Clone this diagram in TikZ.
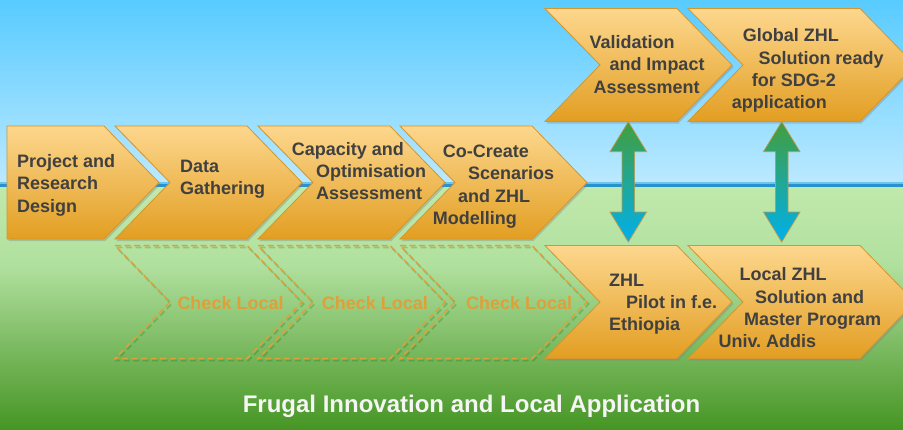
\documentclass[tikz,border=0pt]{standalone}
\usepackage{fontspec}
\setmainfont{Liberation Sans}
\usetikzlibrary{shadows,calc}
\frenchspacing

\definecolor{skytop}{RGB}{88,203,255}
\definecolor{skybot}{RGB}{188,233,255}
\definecolor{horizonlight}{RGB}{110,195,235}
\definecolor{horizon}{RGB}{38,146,206}
\definecolor{grassA}{RGB}{192,233,172}
\definecolor{grassB}{RGB}{176,224,158}
\definecolor{grassC}{RGB}{128,189,102}
\definecolor{grassD}{RGB}{70,150,36}
\definecolor{chevtop}{RGB}{253,215,142}
\definecolor{chevbot}{RGB}{226,158,34}
\definecolor{chevedge}{RGB}{212,150,45}
\definecolor{labelgray}{RGB}{64,64,64}
\definecolor{localorange}{RGB}{222,160,58}
\definecolor{arrowtop}{RGB}{66,158,62}
\definecolor{arrowbot}{RGB}{0,176,236}
\definecolor{arrowedge}{RGB}{196,152,70}

\tikzset{
  chevron/.style={draw=chevedge, line width=0.8pt, line join=miter,
    top color=chevtop, bottom color=chevbot,
    drop shadow={shadow xshift=1.5pt, shadow yshift=-2pt, opacity=0.35}},
  ghostline/.style={draw=localorange, line width=1.5pt, dash pattern=on 6pt off 3.5pt},
  ghostshade/.style={draw=black!60!green, opacity=0.22, line width=1.8pt, dash pattern=on 6pt off 3.5pt},
  steptext/.style={anchor=base west, inner sep=0pt, text=labelgray,
    font=\fontsize{18}{22.4}\selectfont\bfseries},
  checktext/.style={anchor=base west, inner sep=0pt, text=localorange,
    font=\fontsize{18}{22.4}\selectfont\bfseries},
  titletext/.style={anchor=base, inner sep=0pt, text=white!96!black,
    font=\fontsize{24}{28}\selectfont\bfseries},
  biarrow/.style={draw=arrowedge, line width=0.7pt, line join=miter,
    top color=arrowtop, bottom color=arrowbot}
}

% chevron outline: style, left x, top y, width of the flat top edge
\newcommand\drawchev[4]{%
  \path[#1] (#2,#3) -- (#2+#4,#3) -- (#2+#4+55,#3+56.5) -- (#2+#4,#3+113)
    -- (#2,#3+113) -- (#2+55,#3+56.5) -- cycle;}

% two-headed vertical arrow between two named points
\newcommand\dualarrow[2]{%
  \path[biarrow] (#1) -- ($(#1)+(18.3,30)$) -- ($(#1)+(6.3,30)$)
    -- ($(#2)+(6.3,-30)$) -- ($(#2)+(18.3,-30)$) -- (#2)
    -- ($(#2)+(-18.3,-30)$) -- ($(#2)+(-6.3,-30)$)
    -- ($(#1)+(-6.3,30)$) -- ($(#1)+(-18.3,30)$) -- cycle;}

% multi-line label whose reference point is the first baseline
\newcommand\steplines[1]{\parbox[t]{300pt}{\raggedright\hyphenpenalty=10000 #1}}

\begin{document}
\begin{tikzpicture}[x=1pt,y=-1pt]
\useasboundingbox (0,0) rectangle (903,429);
\clip (0,0) rectangle (903,429);

% sky and ground
\shade[top color=skytop, bottom color=skybot] (0,0) rectangle (903,184);
\fill[horizonlight] (0,182.3) rectangle (903,184);
\fill[horizon] (0,184) rectangle (903,187);
\shade[top color=grassA, bottom color=grassB] (0,187) rectangle (903,266);
\shade[top color=grassB, bottom color=grassC] (0,265) rectangle (903,341);
\shade[top color=grassC, bottom color=grassD] (0,340) rectangle (903,429);

% dashed local-check chevrons
\begin{scope}[shift={(1.5,2)}]
  \drawchev{ghostshade}{115}{245.5}{132}
  \drawchev{ghostshade}{258}{245.5}{132}
  \drawchev{ghostshade}{400}{245.5}{132}
\end{scope}
\drawchev{ghostline}{115}{245.5}{132}
\drawchev{ghostline}{258}{245.5}{132}
\drawchev{ghostline}{400}{245.5}{132}

% research chain
\path[chevron] (7,126) -- (104,126) -- (159,182.5) -- (104,239) -- (7,239) -- cycle;
\drawchev{chevron}{115}{126}{132}
\drawchev{chevron}{258}{126}{132}
\drawchev{chevron}{400}{126}{132}

% global and local outcomes
\drawchev{chevron}{545}{8.5}{132}
\drawchev{chevron}{688}{8.5}{172}
\drawchev{chevron}{545}{245.5}{132}
\drawchev{chevron}{688}{245.5}{172}

% links between global and local steps
\coordinate (valid-s) at (628.3,121.7);
\coordinate (pilot-n) at (628.3,242);
\coordinate (global-s) at (781.7,121.7);
\coordinate (local-n) at (781.7,242);
\dualarrow{valid-s}{pilot-n}
\dualarrow{global-s}{local-n}

% step labels
\node[steptext] (t-project) at (17,167.3) {\steplines{%
  Project and\\Research\\Design}};
\node[steptext] (t-data) at (180,172) {\steplines{%
  Data\\Gathering}};
\node[steptext] (t-capacity) at (291.7,155) {\steplines{%
  Capacity and\\\hspace*{24.3pt}Optimisation\\\hspace*{24.3pt}Assessment}};
\node[steptext] (t-cocreate) at (432.7,157.3) {\steplines{%
  \hspace*{10pt}Co-Create\\\hspace*{35.3pt}Scenarios\\\hspace*{25.3pt}and ZHL\\Modelling}};
\node[steptext] (t-valid) at (589.3,48.3) {\steplines{%
  Validation\\\hspace*{20pt}and Impact\\\hspace*{4pt}Assessment}};
\node[steptext] (t-global) at (731.7,41.7) {\steplines{%
  \hspace*{11pt}Global ZHL\\\hspace*{26.6pt}Solution ready\\\hspace*{20pt}for SDG-2\\application}};
\node[steptext] (t-pilot) at (609,286) {\steplines{%
  ZHL\\\hspace*{17pt}Pilot in f.e.\\Ethiopia}};
\node[steptext] (t-local) at (718.3,280.7) {\steplines{%
  \hspace*{21pt}Local ZHL\\\hspace*{36.7pt}Solution and\\\hspace*{25.7pt}Master Program\\Univ. Addis}};

\node[checktext] (check-1) at (177.3,309) {Check Local};
\node[checktext] (check-2) at (321.7,309) {Check Local};
\node[checktext] (check-3) at (466,309) {Check Local};

\node[titletext] (title) at (471.5,412.7) {Frugal Innovation and Local Application};
\end{tikzpicture}
\end{document}
